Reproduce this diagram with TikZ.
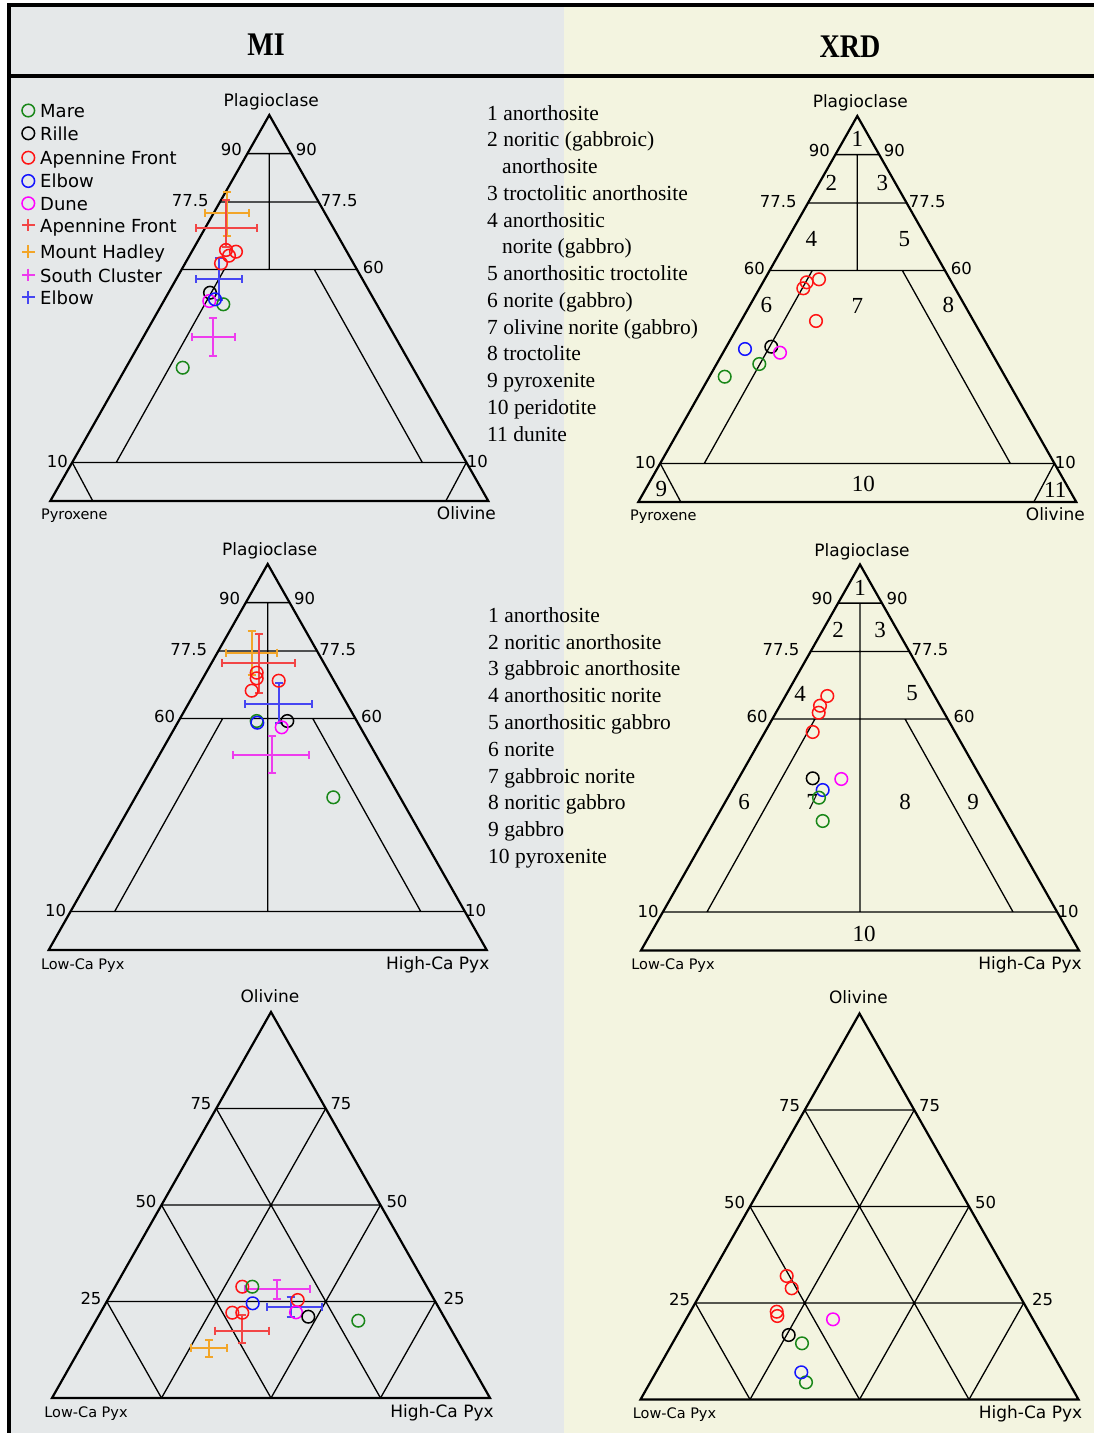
\documentclass[tikz,border=0pt]{standalone}
\usepackage{fontspec}
\usepackage{graphicx}
\setmainfont{Liberation Serif}
\newfontfamily\dvs{DejaVu Sans}
\definecolor{bgL}{RGB}{229,232,233}
\definecolor{bgR}{RGB}{243,244,224}
\definecolor{cG}{RGB}{25,135,25}
\definecolor{cR}{RGB}{255,20,20}
\definecolor{cB}{RGB}{20,20,255}
\definecolor{cM}{RGB}{255,0,255}
\definecolor{eO}{RGB}{242,165,40}
\definecolor{eR}{RGB}{242,70,70}
\definecolor{eB}{RGB}{70,70,242}
\definecolor{eM}{RGB}{238,60,238}

\newcommand\mk[3]{\draw[mk,#1] (#2,#3) circle[radius=6.3];}
\newcommand\ebar[7]{%
  \draw[ebarst,draw=#1] (#4,#3) -- (#5,#3)
    (#4,{#3-4}) -- (#4,{#3+4}) (#5,{#3-4}) -- (#5,{#3+4})
    (#2,#6) -- (#2,#7)
    ({#2-4},#6) -- ({#2+4},#6) ({#2-4},#7) -- ({#2+4},#7);}
% Plagioclase triangle, #1 = lower end of centre line
\newcommand\PlagTri[1]{%
  \draw[outer] (0,0) -- (-219,386) -- (219,386) -- cycle;
  \draw[inner] (-21.9,38.6) -- (21.9,38.6)
    (-49.3,86.9) -- (49.3,86.9)
    (-87.6,154.4) -- (87.6,154.4)
    (-197.1,347.4) -- (197.1,347.4)
    (-45,154.4) -- (-153,347.4)
    (45,154.4) -- (153,347.4)
    (0,38.6) -- (0,#1);}
% tick labels, #1 prefix, #2 =1 to show left 60
\newcommand\PlagTicks[2]{%
  \node[tick] (#1t90l) at (-38,34) {90};
  \node[tick] (#1t90r) at (37,34) {90};
  \node[tick] (#1t77l) at (-79,85.5) {77.5};
  \node[tick] (#1t77r) at (70,85.5) {77.5};
  \ifnum#2=1 \node[tick] (#1t60l) at (-103,152) {60};\fi
  \node[tick] (#1t60r) at (104,152) {60};
  \node[tick] (#1t10l) at (-212,346.5) {10};
  \node[tick] (#1t10r) at (208,346.5) {10};}
\newcommand\OlTri[1]{%
  \draw[outer] (0,0) -- (-219,386) -- (219,386) -- cycle;
  \draw[inner] (-54.75,96.5) -- (54.75,96.5)
    (-109.5,193) -- (109.5,193)
    (-164.25,289.5) -- (164.25,289.5)
    (-109.5,386) -- (54.75,96.5)
    (0,386) -- (109.5,193)
    (109.5,386) -- (164.25,289.5)
    (109.5,386) -- (-54.75,96.5)
    (0,386) -- (-109.5,193)
    (-109.5,386) -- (-164.25,289.5);
  \node[tick] (#1t75l) at (-70,92) {75};
  \node[tick] (#1t75r) at (70,92) {75};
  \node[tick] (#1t50l) at (-125,189) {50};
  \node[tick] (#1t50r) at (126,189) {50};
  \node[tick] (#1t25l) at (-180,286) {25};
  \node[tick] (#1t25r) at (183,286) {25};
  \node[axl] (#1top) at (-1,-10) {Olivine};
  \node[axs] (#1bl) at (-185,405) {Low-Ca Pyx};
  \node[axl] (#1br) at (171,405) {High-Ca Pyx};}

\begin{document}
\begin{tikzpicture}[x=1pt,y=-1pt,
  outer/.style={line width=2.2pt},
  inner/.style={line width=1.3pt},
  mk/.style={line width=1.5pt},
  ebarst/.style={line width=1.8pt},
  tick/.style={font=\dvs\fontsize{16.5}{17}\selectfont, inner sep=0pt},
  axl/.style={font=\dvs\fontsize{17}{18}\selectfont, inner sep=0pt, anchor=base},
  axs/.style={font=\dvs\fontsize{14.5}{15}\selectfont, inner sep=0pt, anchor=base},
  reg/.style={font=\fontsize{23}{24}\selectfont, inner sep=0pt},
  lst/.style={font=\fontsize{21.5}{22}\selectfont, inner sep=0pt, anchor=base west},
  leg/.style={font=\dvs\fontsize{18}{19}\selectfont, inner sep=0pt, anchor=base west},
  hdr/.style={font=\bfseries\fontsize{33}{34}\selectfont, inner sep=0pt},
]
\useasboundingbox (0,0) rectangle (1094,1433);
\fill[white] (0,0) rectangle (1094,1433);
\fill[bgL] (9,5) rectangle (564,1433);
\fill[bgR] (564,5) rectangle (1094,1433);
\draw[line width=4pt] (7,5) -- (1094,5);
\draw[line width=4pt] (9,3) -- (9,1433);
\draw[line width=4pt] (9,76) -- (1094,76);
\node[hdr] (hMI) at (266,45) {\scalebox{0.85}[1]{MI}};
\node[hdr] (hXRD) at (850,47) {\scalebox{0.85}[1]{XRD}};

% ---------- Row 1 MI ----------
\begin{scope}[shift={(269.3,115)}]
  \PlagTri{154.4}
  \draw[inner] (-197.1,347.4) -- (-176.5,386) (197.1,347.4) -- (176.5,386);
  \PlagTicks{a}{0}
  \node[axl] (aP) at (2,-8.5) {Plagioclase};
  \node[axs] (aPx) at (-195,404) {Pyroxene};
  \node[axl] (aOl) at (197,404) {Olivine};
\end{scope}
% ---------- Row 1 XRD ----------
\begin{scope}[shift={(857.3,116)}]
  \PlagTri{154.4}
  \draw[inner] (-197.1,347.4) -- (-176.5,386) (197.1,347.4) -- (176.5,386);
  \PlagTicks{b}{1}
  \node[axl] (bP) at (3,-8.5) {Plagioclase};
  \node[axs] (bPx) at (-194,404) {Pyroxene};
  \node[axl] (bOl) at (198,404) {Olivine};
  \node[reg] (br1) at (0,23) {1};
  \node[reg] (br2) at (-26,67) {2};
  \node[reg] (br3) at (25,67) {3};
  \node[reg] (br4) at (-46,123) {4};
  \node[reg] (br5) at (47,123) {5};
  \node[reg] (br6) at (-91,189) {6};
  \node[reg] (br7) at (0,190) {7};
  \node[reg] (br8) at (91,189) {8};
  \node[reg] (br9) at (-196,373) {9};
  \node[reg] (br10) at (6,368) {10};
  \node[reg] (br11) at (198,374) {11};
\end{scope}
% ---------- Row 2 MI ----------
\begin{scope}[shift={(267.7,564)}]
  \PlagTri{347.4}
  \PlagTicks{c}{1}
  \node[axl] (cP) at (2,-8.5) {Plagioclase};
  \node[axs] (cLo) at (-185,405) {Low-Ca Pyx};
  \node[axl] (cHi) at (170,405) {High-Ca Pyx};
\end{scope}
% ---------- Row 2 XRD ----------
\begin{scope}[shift={(860,564.5)}]
  \PlagTri{347.4}
  \PlagTicks{d}{1}
  \node[axl] (dP) at (2,-8.5) {Plagioclase};
  \node[axs] (dLo) at (-187,405) {Low-Ca Pyx};
  \node[axl] (dHi) at (170,405) {High-Ca Pyx};
  \node[reg] (dr1) at (0,23) {1};
  \node[reg] (dr2) at (-22,65) {2};
  \node[reg] (dr3) at (20,65) {3};
  \node[reg] (dr4) at (-60,129) {4};
  \node[reg] (dr5) at (52,129) {5};
  \node[reg] (dr6) at (-116,237) {6};
  \node[reg] (dr7) at (-48,237) {7};
  \node[reg] (dr8) at (45,237) {8};
  \node[reg] (dr9) at (113,237) {9};
  \node[reg] (dr10) at (4,369) {10};
\end{scope}
% ---------- Row 3 ----------
\begin{scope}[shift={(271,1012)}]
  \OlTri{e}
\end{scope}
\begin{scope}[shift={(859.5,1013.5)}]
  \OlTri{f}
\end{scope}

% ---------- legend ----------
\mk{cG}{28.3}{110.5}
\mk{black}{28.3}{133.3}
\mk{cR}{28.3}{157.7}
\mk{cB}{28.3}{181}
\mk{cM}{28.3}{203.3}
\foreach \cc/\yy in {eR/225,eO/251.7,eM/275,eB/297.3}
  \draw[ebarst,draw=\cc] (22,\yy) -- (34.6,\yy) (28.3,{\yy-6.3}) -- (28.3,{\yy+6.3});
\node[leg] (l1) at (40,117.3) {Mare};
\node[leg] (l2) at (40,140) {Rille};
\node[leg] (l3) at (40,164) {Apennine Front};
\node[leg] (l4) at (40,187.5) {Elbow};
\node[leg] (l5) at (40,210) {Dune};
\node[leg] (l6) at (40,232) {Apennine Front};
\node[leg] (l7) at (40,258) {Mount Hadley};
\node[leg] (l8) at (40,282) {South Cluster};
\node[leg] (l9) at (40,304) {Elbow};

% ---------- lists ----------
\node[lst] (p1) at (487,120) {1 anorthosite};
\node[lst] (p2) at (487,146.75) {2 noritic (gabbroic)};
\node[lst] (p2b) at (502,173.5) {anorthosite};
\node[lst] (p3) at (487,200.25) {3 troctolitic anorthosite};
\node[lst] (p4) at (487,227) {4 anorthositic};
\node[lst] (p4b) at (502,253.75) {norite (gabbro)};
\node[lst] (p5) at (487,280.5) {5 anorthositic troctolite};
\node[lst] (p6) at (487,307.25) {6 norite (gabbro)};
\node[lst] (p7) at (487,334) {7 olivine norite (gabbro)};
\node[lst] (p8) at (487,360.75) {8 troctolite};
\node[lst] (p9) at (487,387.5) {9 pyroxenite};
\node[lst] (p10) at (487,414.25) {10 peridotite};
\node[lst] (p11) at (487,441) {11 dunite};

\node[lst] (q1) at (488,622.3) {1 anorthosite};
\node[lst] (q2) at (488,649.1) {2 noritic anorthosite};
\node[lst] (q3) at (488,675.9) {3 gabbroic anorthosite};
\node[lst] (q4) at (488,702.7) {4 anorthositic norite};
\node[lst] (q5) at (488,729.5) {5 anorthositic gabbro};
\node[lst] (q6) at (488,756.3) {6 norite};
\node[lst] (q7) at (488,783.1) {7 gabbroic norite};
\node[lst] (q8) at (488,809.9) {8 noritic gabbro};
\node[lst] (q9) at (488,836.7) {9 gabbro};
\node[lst] (q10) at (488,863.5) {10 pyroxenite};

% ---------- data: row 1 MI ----------
\ebar{eO}{226.7}{213.3}{205}{249.3}{191.7}{235.7}
\ebar{eR}{226.3}{228.3}{195.7}{256.7}{200}{247}
\ebar{eB}{219}{279.3}{196}{242.3}{258.3}{300}
\ebar{eM}{213.3}{337.3}{191.7}{235.3}{318.3}{355.7}
\mk{cR}{226}{250} \mk{cR}{236}{251.7} \mk{cR}{229}{255.7} \mk{cR}{221}{263.3}
\mk{black}{210}{292.7}
\mk{cG}{223.3}{304.3} \mk{cG}{182.7}{367.7}
\mk{cM}{209.3}{301}
\mk{cB}{215}{299.3}
% ---------- data: row 1 XRD ----------
\mk{cR}{819}{279.3} \mk{cR}{806.7}{282.3} \mk{cR}{803.3}{288.3} \mk{cR}{816}{321}
\mk{cB}{745}{349}
\mk{black}{771.3}{346.7}
\mk{cM}{780}{352.7}
\mk{cG}{759.3}{364} \mk{cG}{724.7}{376.7}
% ---------- data: row 2 MI ----------
\ebar{eO}{251.7}{652.7}{226}{276.7}{630.7}{675}
\ebar{eR}{259.3}{663.3}{222.3}{295}{634.3}{692.7}
\ebar{eB}{279.3}{704}{245.3}{311.7}{683.3}{723.3}
\ebar{eM}{271.7}{755}{233.3}{309.3}{736}{773.3}
\mk{cR}{256.7}{672.7} \mk{cR}{256.7}{678.3} \mk{cR}{251.7}{690.7} \mk{cR}{278.7}{680.7}
\mk{cG}{256.7}{721} \mk{cB}{257.3}{722.7}
\mk{black}{287.3}{721}
\mk{cM}{281.7}{727.3}
\mk{cG}{333.3}{797.3}
% ---------- data: row 2 XRD ----------
\mk{cR}{827.3}{696} \mk{cR}{820}{705.7} \mk{cR}{818.7}{712.7} \mk{cR}{812.7}{732}
\mk{black}{812.7}{778.3}
\mk{cM}{841.3}{779}
\mk{cB}{822.7}{790}
\mk{cG}{819}{797.7} \mk{cG}{822.7}{821}
% ---------- data: row 3 MI ----------
\ebar{eM}{276.7}{1289.3}{245}{310}{1280}{1299.3}
\ebar{eB}{290.7}{1306.7}{266.7}{321.7}{1297.3}{1316.7}
\ebar{eR}{242.3}{1330.7}{215}{269}{1315}{1342.7}
\ebar{eO}{209.3}{1348.3}{190.7}{226.7}{1340}{1356.7}
\mk{cR}{242.3}{1286.7} \mk{cR}{232.3}{1312.7} \mk{cR}{242.3}{1312.7} \mk{cR}{297.7}{1300}
\mk{cG}{252.3}{1286.7} \mk{cG}{358.3}{1320.7}
\mk{cB}{252.7}{1303.3}
\mk{cM}{296}{1312.3}
\mk{black}{308.3}{1316.7}
% ---------- data: row 3 XRD ----------
\mk{cR}{786.7}{1276} \mk{cR}{791.7}{1288.3} \mk{cR}{776.7}{1311.7} \mk{cR}{777.3}{1316}
\mk{cM}{833}{1319.3}
\mk{black}{788.7}{1335}
\mk{cG}{802}{1343.3} \mk{cG}{806}{1382.3}
\mk{cB}{801.3}{1372.3}
\end{tikzpicture}
\end{document}
